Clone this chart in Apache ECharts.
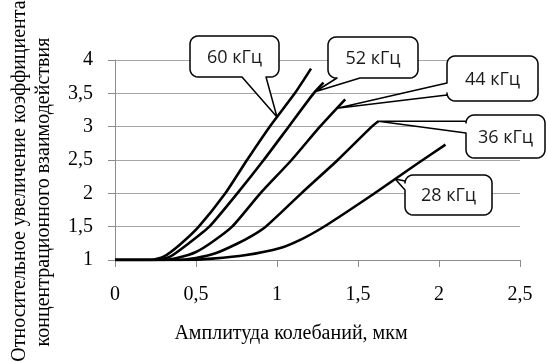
<!DOCTYPE html>
<html>
<head>
<meta charset="utf-8">
<script src="https://cdn.jsdelivr.net/npm/echarts@6/dist/echarts.min.js"></script>
<style>
  html, body { margin: 0; padding: 0; background: #fff; }
  #chart { width: 546px; height: 362px; }
</style>
</head>
<body>
<div id="chart"></div>
<script>
// Relative increase of the concentration interaction coefficient vs. vibration amplitude
const freqLabels = ['60 кГц', '52 кГц', '44 кГц', '36 кГц', '28 кГц'];

// [amplitude, µm ; relative increase]
const curve60 = [[0, 1], [0.22, 1], [0.3, 1.05], [0.4, 1.23], [0.517, 1.5], [0.681, 2], [0.815, 2.5], [0.955, 3], [1.11, 3.5], [1.21, 3.87]];
const curve52 = [[0, 1], [0.25, 1], [0.34, 1.05], [0.45, 1.24], [0.582, 1.5], [0.755, 2], [0.918, 2.5], [1.072, 3], [1.226, 3.5], [1.287, 3.66]];
const curve44 = [[0, 1], [0.3, 1], [0.4, 1.04], [0.5, 1.12], [0.6, 1.27], [0.723, 1.5], [0.897, 2], [1.09, 2.5], [1.265, 3], [1.421, 3.41]];
const curve36 = [[0, 1], [0.38, 1], [0.5, 1.03], [0.62, 1.1], [0.75, 1.24], [0.85, 1.37], [0.93, 1.5], [1.02, 1.7], [1.15, 2], [1.375, 2.5], [1.585, 3], [1.626, 3.08]];
const curve28 = [[0, 1], [0.45, 1], [0.6, 1.02], [0.8, 1.07], [1.02, 1.18], [1.15, 1.31], [1.277, 1.48], [1.43, 1.72], [1.596, 1.99], [1.863, 2.44], [2.04, 2.73]];

// amplitude at which each callout points onto its curve
const calloutAmp = [1.0, 1.235, 1.37, 1.626, 1.73];

const xTickLabels = ['0', '0,5', '1', '1,5', '2', '2,5'];
const yTickLabels = ['1', '1,5', '2', '2,5', '3', '3,5', '4'];

const xTitle = 'Амплитуда колебаний, мкм';
const yTitle1 = 'Относительное увеличение коэффициента';
const yTitle2 = 'концентрационного взаимодействия';

const curves = [curve60, curve52, curve44, curve36, curve28];

const serif = '"Liberation Serif", "Times New Roman", serif';
const sans = '"Open Sans", "Liberation Sans", sans-serif';

const chart = echarts.init(document.getElementById('chart'), null, { renderer: 'canvas' });

chart.setOption({
  animation: false,
  backgroundColor: '#fff',
  grid: { left: 115, right: 26, top: 60, height: 200 },
  xAxis: {
    type: 'value', min: 0, max: 2.5, interval: 0.5,
    axisLine: { show: true, lineStyle: { color: '#8c8c8c', width: 1 } },
    axisTick: { show: true, length: 7, lineStyle: { color: '#8c8c8c' } },
    splitLine: { show: false },
    axisLabel: {
      margin: 25, color: '#000', fontFamily: serif, fontSize: 20,
      formatter: (v, i) => xTickLabels[i]
    }
  },
  yAxis: {
    type: 'value', min: 1, max: 4, interval: 0.5,
    axisLine: { show: true, lineStyle: { color: '#8c8c8c', width: 1 } },
    axisTick: { show: true, length: 7, lineStyle: { color: '#8c8c8c' } },
    splitLine: { show: true, lineStyle: { color: '#a6a6a6', width: 1.2 } },
    axisLabel: {
      margin: 22, color: '#000', fontFamily: serif, fontSize: 20,
      formatter: (v, i) => yTickLabels[i]
    }
  },
  series: curves.map((d, i) => ({
    name: freqLabels[i],
    type: 'line',
    data: d,
    showSymbol: false,
    smooth: 0.2,
    lineStyle: { color: '#000', width: 2.6 },
    z: 3
  }))
});

function interp(d, x) {
  for (let i = 1; i < d.length; i++) {
    if (x <= d[i][0]) {
      const t = (x - d[i - 1][0]) / (d[i][0] - d[i - 1][0]);
      return d[i - 1][1] + t * (d[i][1] - d[i - 1][1]);
    }
  }
  return d[d.length - 1][1];
}

// Speech-bubble outline: rounded box plus a wedge reaching out to the tip
function bubblePoints(b, tip) {
  const pts = [];
  const r = b.r, x0 = b.x, y0 = b.y, x1 = b.x + b.w, y1 = b.y + b.h;
  const arc = (cx, cy, a0, a1) => {
    const n = 6;
    for (let k = 0; k <= n; k++) {
      const a = (a0 + (a1 - a0) * k / n) * Math.PI / 180;
      pts.push([cx + r * Math.cos(a), cy + r * Math.sin(a)]);
    }
  };
  arc(x0 + r, y0 + r, 180, 270);
  arc(x1 - r, y0 + r, 270, 360);
  arc(x1 - r, y1 - r, 0, 90);
  if (b.side === 'bottom') {
    pts.push([Math.max(b.a, b.b), y1], tip, [Math.min(b.a, b.b), y1]);
  }
  arc(x0 + r, y1 - r, 90, 180);
  if (b.side === 'left') {
    pts.push([x0, Math.max(b.a, b.b)], tip, [x0, Math.min(b.a, b.b)]);
  }
  return pts;
}

const boxes = [
  { x: 190, y: 36, w: 89, h: 41, r: 8, side: 'bottom', a: 242, b: 266 },
  { x: 328, y: 37, w: 90, h: 41, r: 8, side: 'bottom', a: 337, b: 360 },
  { x: 447, y: 56, w: 91, h: 45, r: 8, side: 'left', a: 83, b: 95 },
  { x: 466, y: 115, w: 79, h: 43, r: 8, side: 'left', a: 121, b: 133 },
  { x: 405, y: 175, w: 87, h: 40, r: 8, side: 'left', a: 181, b: 190 }
];

const graphics = [];
boxes.forEach((b, i) => {
  const ax = calloutAmp[i];
  const tip = chart.convertToPixel({ gridIndex: 0 }, [ax, interp(curves[i], ax)]);
  graphics.push({
    type: 'polygon', z: 100,
    shape: { points: bubblePoints(b, tip) },
    style: { fill: '#fff', stroke: '#000', lineWidth: 1.5, lineJoin: 'round' }
  });
  graphics.push({
    type: 'text', z: 101,
    x: b.x + b.w / 2, y: b.y + b.h / 2 + 1,
    style: {
      text: freqLabels[i], fill: '#1a1a1a', font: '18px ' + sans,
      textAlign: 'center', textVerticalAlign: 'middle'
    }
  });
});

graphics.push({
  type: 'text', x: 291, y: 334,
  style: { text: xTitle, fill: '#000', font: '20px ' + serif, textAlign: 'center', textVerticalAlign: 'middle' }
});
graphics.push({
  type: 'text', x: 20, y: 181, rotation: Math.PI / 2,
  style: { text: yTitle1, fill: '#000', font: '20px ' + serif, textAlign: 'center', textVerticalAlign: 'middle' }
});
graphics.push({
  type: 'text', x: 44, y: 192, rotation: Math.PI / 2,
  style: { text: yTitle2, fill: '#000', font: '20px ' + serif, textAlign: 'center', textVerticalAlign: 'middle' }
});

chart.setOption({ graphic: graphics });
</script>
</body>
</html>
